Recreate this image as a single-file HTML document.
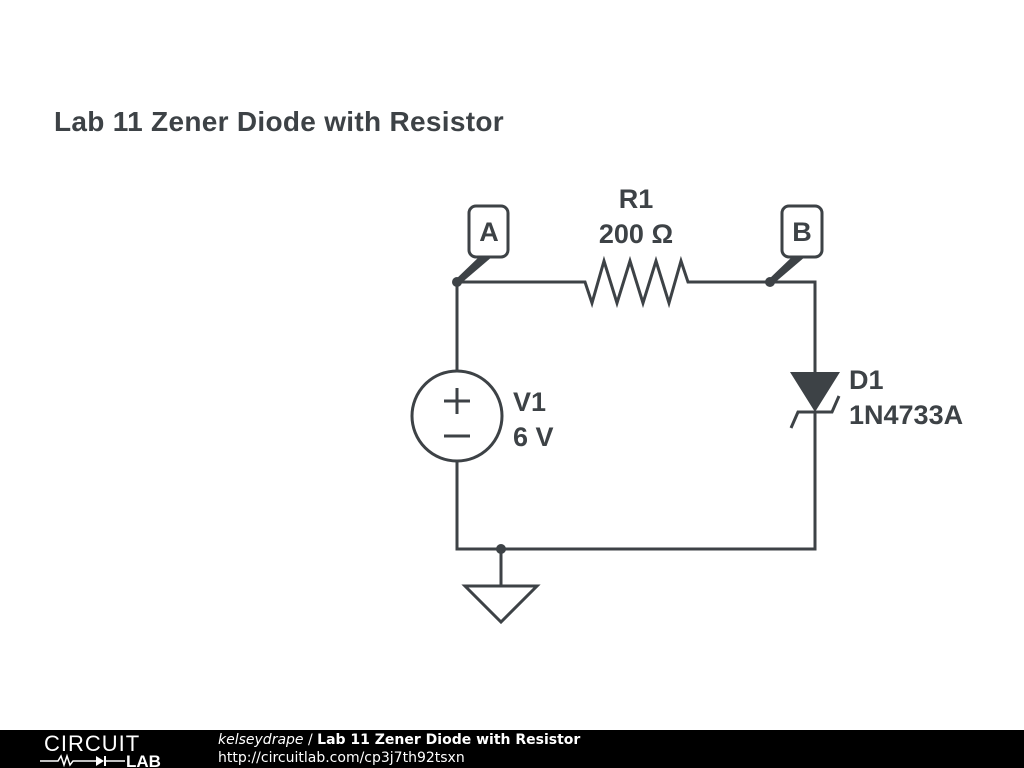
<!DOCTYPE html>
<html><head><style>
body{margin:0;width:1024px;height:768px;background:#fff;overflow:hidden;position:relative;font-family:"Liberation Sans",sans-serif}
.t{position:absolute;font-weight:bold;color:#3d4246}
</style></head><body>
<div class="t" style="left:54px;top:106px;font-size:28px;letter-spacing:0.3px">Lab 11 Zener Diode with Resistor</div>
<svg width="1024" height="768" style="position:absolute;left:0;top:0">
<g stroke="#3d4246" stroke-width="3" fill="none" stroke-linejoin="miter">
<path d="M457 282 H585 L592 303 L604 261 L617 303 L630 261 L643 303 L656 261 L669 303 L681 261 L688 282 H815 V372"/>
<path d="M815 412 V549 H457 V461"/>
<path d="M457 371 V282"/>
<circle cx="457" cy="416" r="45"/>
<path d="M444 401 H470 M457 388 V414 M444 436 H470"/>
<path d="M791 428 L798 412 H832 L839 396"/>
<path d="M501 549 V586 M465 586 H537 L501 622 Z"/>
<rect x="469" y="206" width="39" height="51" rx="7"/>
<rect x="782" y="206" width="40" height="51" rx="7"/>
</g>
<path d="M790 372 H840 L815 412 Z" fill="#3d4246"/>
<g fill="#3d4246">
<circle cx="457" cy="282" r="5"/><circle cx="770" cy="282" r="5"/><circle cx="501" cy="549" r="5"/>
<path d="M455 280 L480 256 L493 256 L459 285 Z"/>
<path d="M768 280 L793 256 L806 256 L772 285 Z"/>
</g>
<rect x="0" y="730" width="1024" height="38" fill="#000"/>
<text x="44" y="751" font-family="Liberation Sans" font-size="22" fill="#fff" font-weight="normal" letter-spacing="1">CIRCUIT</text>
<path d="M40 761 H58 L61 756 L64 765 L67 756 L70 765 L73 761 H96" stroke="#fff" stroke-width="1.5" fill="none"/>
<path d="M96 756 L104 761 L96 766 Z" fill="#fff"/><path d="M105 756 V766" stroke="#fff" stroke-width="2"/>
<path d="M105 761 H125" stroke="#fff" stroke-width="1.5"/>
<text x="126" y="767" font-family="Liberation Sans" font-size="17" font-weight="bold" fill="#fff">LAB</text>
</svg>
<div class="t" style="left:471px;top:217px;font-size:27px;width:36px;text-align:center">A</div>
<div class="t" style="left:784px;top:217px;font-size:27px;width:36px;text-align:center">B</div>
<div class="t" style="left:586px;top:182px;font-size:27px;width:100px;text-align:center;line-height:35px">R1<br>200 Ω</div>
<div class="t" style="left:513px;top:385px;font-size:27px;line-height:35px">V1<br>6 V</div>
<div class="t" style="left:849px;top:363px;font-size:27px;line-height:35px">D1<br>1N4733A</div>
<div style="position:absolute;left:218px;top:731px;color:#fff;font-size:14px;line-height:18px;font-family:'DejaVu Sans',sans-serif"><i>kelseydrape</i> / <b>Lab 11 Zener Diode with Resistor</b><br>http://circuitlab.com/cp3j7th92tsxn</div>
</body></html>
